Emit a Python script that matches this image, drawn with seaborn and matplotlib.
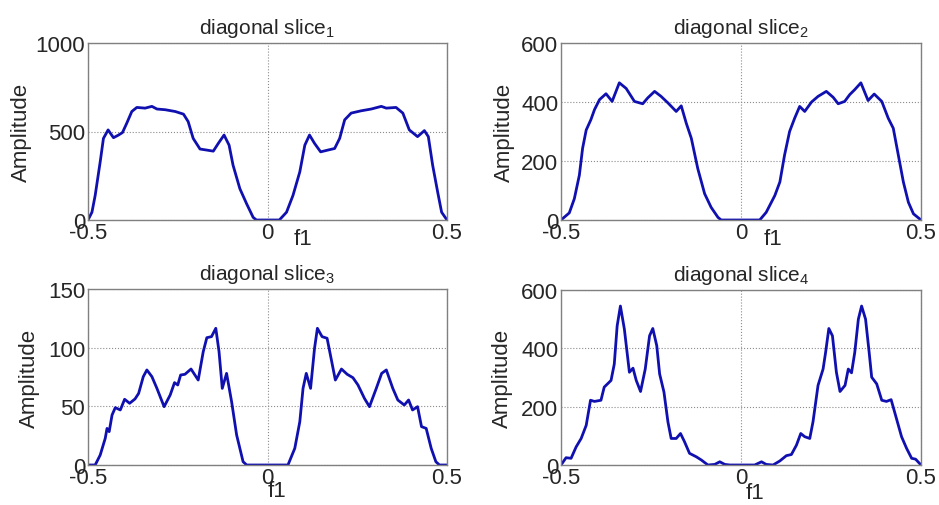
import matplotlib
matplotlib.use('Agg')
import matplotlib.pyplot as plt
import seaborn as sns

# amplitude values
f_slice1 = [-0.5, -0.489, -0.480, -0.466, -0.457, -0.444, -0.429, -0.415, -0.404, -0.392,
            -0.378, -0.364, -0.341, -0.322, -0.308, -0.285, -0.257, -0.234, -0.221, -0.207,
            -0.188, -0.169, -0.151, -0.137, -0.121, -0.107, -0.096, -0.077, -0.058, -0.040,
            -0.031, 0.033, 0.053, 0.071, 0.090, 0.104, 0.117, 0.131, 0.148, 0.168,
            0.187, 0.201, 0.215, 0.233, 0.261, 0.289, 0.317, 0.331, 0.358, 0.377,
            0.395, 0.418, 0.437, 0.448, 0.460, 0.474, 0.485, 0.5]
amp_slice1 = [0, 44, 139, 329, 461, 509, 465, 480, 494, 547,
              613, 636, 632, 642, 627, 623, 613, 598, 556, 461,
              401, 395, 389, 433, 480, 423, 310, 177, 91, 15,
              0, 0, 44, 139, 272, 423, 480, 433, 385, 395,
              404, 461, 566, 604, 617, 627, 642, 632, 636, 604,
              509, 471, 505, 471, 310, 158, 44, 0]

f_slice2 = [-0.5, -0.477, -0.463, -0.449, -0.440, -0.430, -0.417, -0.407, -0.393, -0.375,
            -0.358, -0.338, -0.319, -0.296, -0.273, -0.259, -0.240, -0.222, -0.203, -0.180,
            -0.166, -0.152, -0.138, -0.120, -0.101, -0.083, -0.064, -0.055, 0.052, 0.070,
            0.094, 0.108, 0.121, 0.135, 0.149, 0.163, 0.177, 0.196, 0.214, 0.237,
            0.256, 0.270, 0.288, 0.302, 0.316, 0.333, 0.353, 0.370, 0.391, 0.409,
            0.423, 0.437, 0.451, 0.465, 0.479, 0.5]
amp_slice2 = [0, 24, 72, 152, 243, 305, 340, 374, 408, 428,
              402, 465, 446, 402, 394, 414, 436, 419, 397, 368,
              387, 328, 277, 174, 89, 43, 9, 0, 0, 26,
              83, 129, 220, 300, 345, 385, 368, 400, 419, 436,
              416, 394, 402, 425, 442, 465, 405, 427, 402, 345,
              311, 220, 129, 60, 21, 0]

f_slice3 = [-0.5, -0.480, -0.466, -0.452, -0.447, -0.441, -0.433, -0.424, -0.410, -0.398,
            -0.384, -0.369, -0.359, -0.346, -0.336, -0.322, -0.308, -0.288, -0.271, -0.259,
            -0.250, -0.242, -0.230, -0.213, -0.193, -0.179, -0.169, -0.156, -0.144, -0.135,
            -0.126, -0.114, -0.100, -0.086, -0.068, -0.058, 0.057, 0.076, 0.090, 0.099,
            0.108, 0.120, 0.131, 0.139, 0.152, 0.166, 0.178, 0.189, 0.206, 0.222,
            0.238, 0.252, 0.270, 0.284, 0.303, 0.318, 0.331, 0.349, 0.363, 0.381,
            0.393, 0.404, 0.418, 0.429, 0.442, 0.456, 0.469, 0.479, 0.5]
amp_slice3 = [0, 0, 8.5, 22.7, 31.2, 28.4, 42.6, 48.9, 46.9, 56,
              52.6, 56.3, 61, 75.3, 81, 75.3, 65.3, 49.7, 59.7, 70.2,
              68.2, 76.7, 77.3, 81.8, 72.4, 96.6, 108.5, 109.4, 116.5, 96.6,
              65.3, 78.1, 54, 25.6, 2.8, 0, 0, 14.2, 36.9, 65.3,
              78.1, 65.3, 99.4, 116.5, 109.4, 108, 89.5, 72.4, 81.8, 77.3,
              74.4, 68.2, 56.8, 49.7, 65.3, 78.1, 81, 65.3, 55.4, 51.1,
              55.4, 46.9, 49.7, 32.7, 31.2, 14.2, 2.8, 0, 0]

f_slice4 = [-0.5, -0.486, -0.472, -0.458, -0.444, -0.430, -0.418, -0.407, -0.389, -0.380,
            -0.361, -0.352, -0.344, -0.335, -0.324, -0.310, -0.300, -0.291, -0.279, -0.266,
            -0.254, -0.245, -0.234, -0.226, -0.214, -0.203, -0.194, -0.180, -0.168, -0.157,
            -0.143, -0.124, -0.110, -0.092, -0.073, -0.059, -0.045, -0.031, 0.038, 0.057,
            0.070, 0.089, 0.108, 0.126, 0.140, 0.154, 0.166, 0.177, 0.191, 0.200,
            0.214, 0.228, 0.235, 0.244, 0.254, 0.265, 0.275, 0.289, 0.298, 0.307,
            0.316, 0.326, 0.335, 0.346, 0.356, 0.363, 0.377, 0.391, 0.404, 0.417,
            0.428, 0.446, 0.460, 0.474, 0.485, 0.5]
amp_slice4 = [0, 25, 23, 62, 91, 136, 222, 218, 222, 267,
              290, 346, 477, 545, 466, 318, 332, 290, 252, 329,
              443, 468, 409, 312, 250, 148, 91, 91, 108, 80,
              40, 28, 17, 0, 2, 11, 2, 0, 0, 11,
              2, 0, 14, 32, 36, 68, 108, 97, 91, 148,
              273, 329, 386, 468, 443, 318, 252, 273, 329, 316,
              386, 500, 545, 500, 386, 301, 278, 222, 218, 224,
              176, 97, 57, 23, 20, 0]

x_ticks = [-0.5, 0, 0.5]
x_ticklabels = ['-0.5', '0', '0.5']
y_ticks = [[0, 500, 1000], [0, 200, 400, 600], [0, 50, 100, 150], [0, 200, 400, 600]]
titles = ['diagonal slice$_\\mathregular{1}$', 'diagonal slice$_\\mathregular{2}$',
          'diagonal slice$_\\mathregular{3}$', 'diagonal slice$_\\mathregular{4}$']

sns.set_style('white')
plt.rcParams['font.family'] = ['Liberation Sans', 'DejaVu Sans']
plt.rcParams['font.size'] = 16

W, H = 939, 506
# axes boxes in pixels: left, top, right, bottom
boxes = [(88, 44, 447, 221), (561, 44, 921, 221), (88, 290, 447, 466), (561, 291, 921, 466)]
f1_pos = [(0.599, -0.045), (0.589, -0.045), (0.526, -0.085), (0.539, -0.095)]
amp_pos = [-0.156, -0.128, -0.134, -0.133]

fig = plt.figure(figsize=(W / 100, H / 100), dpi=100)
series = [(f_slice1, amp_slice1), (f_slice2, amp_slice2), (f_slice3, amp_slice3), (f_slice4, amp_slice4)]

for i, (fx, amp) in enumerate(series):
    l, t, r, b = boxes[i]
    ax = fig.add_axes([l / W, 1 - b / H, (r - l) / W, (b - t) / H])
    sns.lineplot(x=fx, y=amp, ax=ax, color='#1010b0', linewidth=2.0)
    ax.set_xlim(-0.5, 0.5)
    ax.set_ylim(y_ticks[i][0], y_ticks[i][-1])
    ax.set_xticks(x_ticks)
    ax.set_xticklabels(x_ticklabels)
    ax.set_yticks(y_ticks[i])
    ax.grid(True, linestyle=':', color='#8c8c8c', linewidth=0.8)
    for s in ax.spines.values():
        s.set_color('#808080')
        s.set_linewidth(1.0)
    ax.tick_params(axis='x', direction='in', length=3, color='#808080', pad=1.5, labelsize=16)
    ax.tick_params(axis='y', direction='in', length=3, color='#808080', pad=2, labelsize=16)
    ax.set_title(titles[i], fontsize=15, pad=7)
    ax.set_xlabel('f1', fontsize=16)
    ax.xaxis.set_label_coords(*f1_pos[i])
    ax.set_ylabel('Amplitude', fontsize=16)
    ax.yaxis.set_label_coords(amp_pos[i], 0.5)

plt.savefig('out.png', dpi=100)
